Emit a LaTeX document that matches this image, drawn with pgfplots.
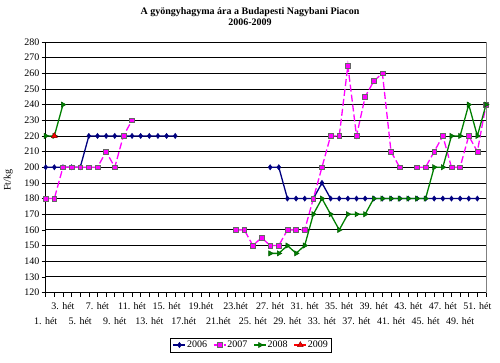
\documentclass[border=0pt]{standalone}
\usepackage{fontspec}
\setmainfont{Liberation Serif}
\usepackage{pgfplots}
\pgfplotsset{compat=1.18}
\usepackage{pgfplotstable}
\definecolor{navyc}{RGB}{0,0,128}
\definecolor{magc}{RGB}{255,0,255}
\definecolor{greenc}{RGB}{0,128,0}
\definecolor{redc}{RGB}{255,0,0}

\pgfplotstableread{
w v
1 200
2 200
3 200
4 200
5 200
6 220
7 220
8 220
9 220
10 220
11 220
12 220
13 220
14 220
15 220
16 220
20 nan
27 200
28 200
29 180
30 180
31 180
32 180
33 190
34 180
35 180
36 180
37 180
38 180
39 180
40 180
41 180
42 180
43 180
44 180
45 180
46 180
47 180
48 180
49 180
50 180
51 180
}\tsix

\pgfplotstableread{
w v
1 180
2 180
3 200
4 200
5 200
6 200
7 200
8 210
9 200
10 220
11 230
17 nan
23 160
24 160
25 150
26 155
27 150
28 150
29 160
30 160
31 160
32 180
33 200
34 220
35 220
36 265
37 220
38 245
39 255
40 260
41 210
42 200
43 nan
44 200
45 200
46 210
47 220
48 200
49 200
50 220
51 210
52 240
}\tseven

\pgfplotstableread{
w v
1 220
2 220
3 240
15 nan
27 145
28 145
29 150
30 145
31 150
32 170
33 180
34 170
35 160
36 170
37 170
38 170
39 180
40 180
41 180
42 180
43 180
44 180
45 180
46 200
47 200
48 220
49 220
50 240
51 220
52 240
}\teight

\pgfplotstableread{
w v
2 220
}\tnine

\begin{document}
\begin{tikzpicture}
\path[use as bounding box] (0,0) rectangle (500pt,362pt);
\begin{axis}[
  at={(45.7pt,69.5pt)}, anchor=south west,
  scale only axis, width=440.3pt, height=250.5pt,
  xmin=1, xmax=52, ymin=120, ymax=280,
  clip=false,
  unbounded coords=jump,
  axis x line*=bottom, axis y line*=left,
  axis line style={black, line width=0.8pt},
  ytick={120,130,...,280},
  ymajorgrids, grid style={black, line width=0.8pt},
  xtick={1,5,...,49},
  xticklabels={1. hét,5. hét,9. hét,13. hét,17.hét,21.hét,25. hét,29. hét,33. hét,37. hét,41. hét,45. hét,49. hét},
  extra x ticks={3,7,...,51},
  extra x tick labels={3. hét,7. hét,11. hét,15. hét,19.hét,23.hét,27. hét,31. hét,35. hét,39. hét,43. hét,47. hét,51. hét},
  extra x tick style={xticklabel style={yshift=14.5pt}, grid=none},
  xticklabel style={anchor=base, yshift=-27.5pt},
  minor xtick={1,...,52},
  tick align=outside,
  major tick length=4pt, minor tick length=4pt,
  tick style={black, line width=0.6pt},
  ticklabel style={font=\fontsize{10}{12}\selectfont, inner sep=1pt},
  /pgf/number format/assume math mode=true,
  yticklabel style={xshift=-1pt},
  ylabel={Ft/kg},
  ylabel style={at={(axis description cs:-0.085,0.449)}, anchor=center, font=\fontsize{10}{12}\selectfont, rotate=0},
  title={A gyöngyhagyma ára a Budapesti Nagybani Piacon\\2006-2009},
  title style={at={(axis description cs:0.464,1.116)}, anchor=north, inner sep=0pt, align=center, font=\bfseries\fontsize{10}{11.5}\selectfont},
  legend columns=4,
  legend style={at={(axis description cs:0.466,-0.2096)}, anchor=center, draw=black, line width=0.6pt, font=\fontsize{10}{12}\selectfont, inner sep=2pt, column sep=0pt, nodes={inner sep=1pt}, /tikz/every even column/.append style={column sep=5pt}},
  legend image code/.code={\draw[mark repeat=2,mark phase=2,#1] plot coordinates {(0pt,0pt)(6pt,0pt)(12pt,0pt)};},
  legend image post style={line width=1.3pt},
]
\draw[gray, line width=0.8pt] (rel axis cs:1,0) -- (rel axis cs:1,1);
\addplot[navyc, line width=1.3pt, mark=diamond*, mark size=2.6pt, mark options={solid, fill=navyc, draw=navyc, line width=0.5pt}] table[x=w, y=v] {\tsix};
\addlegendentry{2006}
\addplot[magc, line width=1.3pt, dash pattern=on 7pt off 3pt, mark=square*, mark size=2.4pt, mark options={solid, fill=magc, draw=black!60, line width=0.5pt}] table[x=w, y=v] {\tseven};
\addlegendentry{2007}
\addplot[greenc, line width=1.3pt, mark=triangle*, mark size=3pt, mark options={solid, rotate=-90, fill=greenc, draw=greenc!70!black, line width=0.5pt}] table[x=w, y=v] {\teight};
\addlegendentry{2008}
\addplot[redc, line width=1.3pt, mark=triangle*, mark size=3.3pt, mark options={solid, fill=redc, draw=red!60!black, line width=0.5pt}] table[x=w, y=v] {\tnine};
\addlegendentry{2009}
\end{axis}
\end{tikzpicture}
\end{document}
